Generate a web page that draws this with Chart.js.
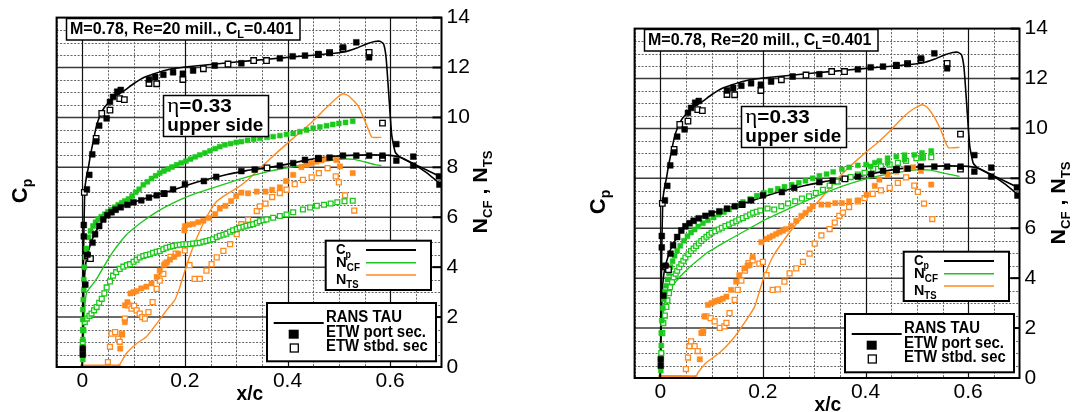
<!DOCTYPE html>
<html><head><meta charset="utf-8">
<script src="https://cdn.jsdelivr.net/npm/chart.js@4"></script>
<style>
html,body{margin:0;padding:0;background:#fff;width:1078px;height:412px;overflow:hidden;}
canvas{position:absolute;}
#c1{left:0;top:0;}
#c2{left:578px;top:11px;}
</style></head><body>
<canvas id="c1" width="500" height="400"></canvas>
<canvas id="c2" width="500" height="400"></canvas>
<script>
// ---------- tick labels ----------
const xTicks = [0, 0.2, 0.4, 0.6];
const yTicks = [0, 2, 4, 6, 8, 10, 12, 14];

// ---------- Cp (same in both panels) ----------
const cpUpLineX = [0,0.001,0.002,0.003,0.005,0.008,0.012,0.016,0.021,0.027,0.034,0.043,0.054,0.066,0.08,0.1,0.12,0.14,0.17,0.2,0.24,0.3,0.36,0.42,0.48,0.51,0.535,0.555,0.57,0.58,0.587,0.592,0.597,0.603,0.61,0.62,0.645,0.67,0.7];
const cpUpLineY = [0,1.6,3.4,5.2,7.1,7.6,8.0,8.5,9.0,9.6,10.05,10.4,10.65,10.88,11.05,11.35,11.6,11.75,11.93,12.02,12.1,12.22,12.33,12.44,12.55,12.62,12.78,12.95,13.04,13.05,12.95,12.4,11.0,9.3,8.6,8.4,8.13,7.8,7.3];
const cpLoLineX = [0,0.001,0.003,0.006,0.01,0.015,0.02,0.03,0.04,0.055,0.07,0.085,0.1,0.13,0.16,0.2,0.24,0.28,0.32,0.36,0.4,0.44,0.48,0.52,0.56,0.6,0.62,0.645,0.67,0.7];
const cpLoLineY = [0,1.5,3.0,4.0,4.5,4.85,5.15,5.55,5.85,6.15,6.35,6.5,6.6,6.8,6.98,7.25,7.5,7.7,7.87,7.98,8.13,8.3,8.42,8.48,8.5,8.48,8.4,8.15,7.9,7.6];
const cpPortX = [0.001,0.001,0.003,0.003,0.006,0.009,0.01,0.0137,0.0195,0.02,0.025,0.027,0.033,0.033,0.041,0.0475,0.049,0.054,0.057,0.06,0.065,0.068,0.075,0.075,0.088,0.1,0.115,0.13,0.13,0.142,0.145,0.158,0.16,0.177,0.177,0.196,0.2,0.216,0.237,0.258,0.261,0.31,0.31,0.336,0.385,0.385,0.41,0.411,0.434,0.434,0.46,0.46,0.482,0.482,0.508,0.508,0.534,0.534,0.559,0.559,0.585,0.612,0.612,0.645,0.645,0.695,0.696];
const cpPortY = [0.5,0.75,5.23,5.69,3.3,7.12,4.5,7.7,8.52,4.98,5.32,9.04,9.67,5.65,5.91,9.96,6.08,10.62,6.2,10.82,6.3,11.03,11.1,6.4,6.5,6.6,6.68,11.52,6.79,11.62,6.88,11.71,6.95,11.81,7.12,11.75,7.32,11.88,7.45,12.08,7.62,12.17,7.85,7.91,12.37,8.07,12.45,8.17,12.48,8.3,12.54,8.37,12.58,8.39,12.81,8.47,13.01,8.47,12.41,8.47,8.47,8.93,8.27,8.43,8.07,7.64,7.31];
const cpStbdX = [0.004,0.01,0.016,0.027,0.038,0.054,0.073,0.082,0.13,0.145,0.159,0.196,0.236,0.284,0.334,0.359,0.36,0.46,0.46,0.482,0.508,0.559,0.585,0.585];
const cpStbdY = [7.0,4.45,4.34,9.16,10.16,10.29,10.75,10.71,11.36,11.35,6.95,11.52,11.95,12.14,12.28,12.28,7.98,12.52,8.35,12.6,12.75,12.61,9.77,8.37];

// ---------- left panel N factors ----------
const L_ncfLineX = [0,0.002,0.004,0.006,0.009,0.014,0.021,0.03,0.041,0.05,0.06,0.073,0.086,0.1,0.12,0.15,0.19,0.22,0.25,0.28,0.31,0.34,0.37,0.41,0.45,0.48,0.51,0.53,0.55,0.57,0.583];
const L_ncfLineY = [0,1.0,2.1,2.7,3.0,3.15,3.33,3.6,3.99,4.3,4.62,4.98,5.3,5.55,5.87,6.28,6.7,6.95,7.15,7.35,7.55,7.72,7.87,8.02,8.18,8.27,8.33,8.32,8.22,8.11,8.07];
const L_ncfPortX = [0.001,0.001,0.001,0.001,0.001,0.001,0.002,0.003,0.003,0.004,0.006,0.008,0.012,0.016,0.021,0.026,0.031,0.037,0.044,0.05,0.056,0.063,0.07,0.077,0.083,0.09,0.097,0.104,0.111,0.119,0.127,0.135,0.143,0.151,0.159,0.167,0.175,0.184,0.193,0.202,0.211,0.22,0.229,0.239,0.249,0.259,0.268,0.278,0.289,0.3,0.31,0.322,0.334,0.346,0.36,0.372,0.385,0.398,0.411,0.424,0.437,0.45,0.463,0.476,0.488,0.5,0.513,0.527];
const L_ncfPortY = [0.3,0.7,1.1,1.5,1.9,2.3,2.7,3.1,3.5,4.0,4.4,4.75,5.2,5.45,5.65,5.8,5.92,6.02,6.12,6.22,6.3,6.4,6.5,6.58,6.65,6.73,6.85,7.0,7.12,7.3,7.42,7.55,7.66,7.77,7.85,7.93,8.01,8.1,8.18,8.25,8.33,8.42,8.5,8.58,8.66,8.75,8.83,8.9,8.95,9.0,9.03,9.08,9.12,9.16,9.2,9.23,9.27,9.32,9.36,9.43,9.5,9.57,9.62,9.67,9.72,9.76,9.8,9.85];
const L_ncfStbdX = [0.001,0.001,0.002,0.005,0.009,0.014,0.018,0.023,0.028,0.033,0.038,0.043,0.0475,0.054,0.06,0.066,0.073,0.08,0.087,0.093,0.1,0.106,0.112,0.119,0.125,0.132,0.138,0.145,0.151,0.158,0.164,0.171,0.177,0.184,0.19,0.197,0.203,0.21,0.216,0.223,0.229,0.236,0.242,0.249,0.255,0.262,0.268,0.275,0.281,0.288,0.294,0.301,0.307,0.314,0.32,0.327,0.333,0.34,0.346,0.353,0.359,0.372,0.385,0.398,0.411,0.43,0.444,0.457,0.471,0.484,0.497,0.511,0.527];
const L_ncfStbdY = [0.6,1.0,1.47,1.8,1.94,2.05,2.14,2.27,2.4,2.57,2.73,2.95,3.19,3.43,3.66,3.8,3.93,4.02,4.08,4.12,4.22,4.3,4.39,4.45,4.49,4.52,4.58,4.62,4.65,4.72,4.78,4.82,4.85,4.88,4.9,4.92,4.92,4.93,4.95,4.96,4.98,5.02,5.05,5.09,5.12,5.2,5.26,5.3,5.34,5.42,5.48,5.53,5.58,5.62,5.66,5.69,5.72,5.78,5.84,5.88,5.91,5.98,6.05,6.11,6.2,6.31,6.39,6.46,6.5,6.55,6.6,6.64,6.66];
const L_ntsLineX = [-0.004,0.03,0.07,0.073,0.086,0.106,0.125,0.145,0.164,0.18,0.19,0.2,0.213,0.229,0.245,0.262,0.283,0.3,0.32,0.343,0.377,0.41,0.444,0.477,0.497,0.508,0.52,0.538,0.551,0.564,0.583];
const L_ntsLineY = [0.04,0.04,0.04,0.1,0.54,0.94,1.21,1.74,2.27,2.67,3.19,3.86,4.65,5.45,6.11,6.64,6.95,7.15,7.45,7.9,8.55,9.15,9.75,10.42,10.8,10.95,10.85,10.45,9.85,9.22,9.2];
const L_ntsPortX = [0.074,0.078,0.083,0.083,0.088,0.094,0.1,0.106,0.115,0.125,0.135,0.145,0.151,0.159,0.165,0.171,0.179,0.187,0.199,0.2,0.208,0.216,0.226,0.236,0.247,0.259,0.268,0.279,0.29,0.3,0.31,0.323,0.34,0.357,0.37,0.385,0.397,0.411,0.427,0.437,0.447,0.456,0.466,0.477,0.495,0.502,0.527];
const L_ntsPortY = [0.74,1.3,1.8,2.47,2.6,2.95,3.0,3.04,3.15,3.22,3.35,3.61,3.86,4.08,4.2,4.3,4.41,4.54,5.47,5.65,5.7,5.73,5.8,5.86,5.97,6.13,6.35,6.46,6.65,6.85,6.99,6.96,7.03,7.03,7.1,7.2,7.45,7.7,8.01,8.1,8.17,8.23,8.28,8.35,8.3,8.04,7.77];
const L_ntsStbdX = [0.05,0.054,0.057,0.064,0.07,0.073,0.077,0.083,0.09,0.096,0.101,0.106,0.112,0.117,0.122,0.129,0.137,0.145,0.151,0.158,0.162,0.172,0.182,0.2,0.209,0.219,0.229,0.242,0.252,0.262,0.275,0.288,0.301,0.31,0.323,0.34,0.346,0.357,0.37,0.385,0.398,0.414,0.43,0.447,0.461,0.478,0.494,0.5,0.512,0.53];
const L_ntsStbdY = [0.2,0.81,1.34,1.4,1.14,1.01,1.34,1.94,2.47,2.34,2.45,2.27,2.14,2.0,1.94,2.2,2.6,3.13,3.46,3.73,4.14,4.41,4.54,4.67,4.08,3.53,3.53,3.86,4.12,4.39,4.65,4.92,5.32,5.72,5.9,6.25,6.44,6.55,6.81,6.97,7.11,7.33,7.5,7.6,7.77,7.97,7.64,7.4,6.88,6.27];

// ---------- right panel N factors ----------
const R_ncfLineX = [0,0.001,0.002,0.005,0.008,0.012,0.015,0.02,0.025,0.033,0.04,0.05,0.06,0.075,0.09,0.11,0.135,0.17,0.2,0.236,0.27,0.303,0.337,0.371,0.405,0.439,0.473,0.5,0.527,0.554,0.583];
const R_ncfLineY = [0,1.0,1.9,2.5,3.0,3.25,3.4,3.6,3.72,3.92,4.1,4.3,4.5,4.75,5.0,5.25,5.55,5.95,6.3,6.65,6.97,7.27,7.55,7.8,8.0,8.15,8.27,8.34,8.33,8.2,8.08];
const R_ncfPortX = [0.001,0.001,0.002,0.002,0.003,0.005,0.007,0.009,0.011,0.014,0.017,0.02,0.024,0.028,0.033,0.039,0.046,0.053,0.06,0.067,0.074,0.083,0.093,0.104,0.114,0.124,0.134,0.148,0.161,0.175,0.188,0.202,0.215,0.229,0.242,0.256,0.27,0.283,0.297,0.31,0.324,0.337,0.354,0.368,0.385,0.401,0.41,0.418,0.427,0.443,0.443,0.46,0.476,0.476,0.495,0.51,0.51,0.528];
const R_ncfPortY = [0.3,0.8,1.3,1.8,2.3,2.8,3.15,3.45,3.7,3.95,4.2,4.45,4.68,4.9,5.1,5.3,5.5,5.68,5.83,5.95,6.07,6.2,6.32,6.43,6.55,6.65,6.75,6.9,7.05,7.17,7.3,7.42,7.5,7.58,7.66,7.74,7.82,7.9,8.0,8.1,8.17,8.26,8.36,8.44,8.52,8.55,8.48,8.63,8.7,8.81,8.62,8.87,8.93,8.75,8.94,9.02,8.82,9.1];
const R_ncfStbdX = [0.002,0.004,0.006,0.009,0.012,0.014,0.017,0.019,0.023,0.026,0.03,0.033,0.037,0.041,0.045,0.049,0.055,0.06,0.065,0.07,0.075,0.08,0.085,0.09,0.095,0.1,0.107,0.114,0.12,0.127,0.134,0.141,0.148,0.154,0.161,0.168,0.175,0.181,0.188,0.195,0.209,0.222,0.236,0.249,0.263,0.276,0.29,0.303,0.317,0.33,0.344,0.358,0.371,0.385,0.398,0.415,0.43,0.447,0.463,0.479,0.499,0.512,0.528];
const R_ncfStbdY = [1.0,1.8,2.2,2.5,2.85,3.11,3.4,3.64,3.85,4.04,4.18,4.3,4.44,4.57,4.7,4.83,4.96,5.09,5.19,5.29,5.39,5.49,5.57,5.66,5.74,5.82,5.88,5.95,6.02,6.09,6.15,6.22,6.28,6.35,6.41,6.48,6.55,6.62,6.66,6.71,6.79,6.75,6.88,6.99,7.08,7.19,7.28,7.41,7.54,7.71,7.87,7.98,8.05,8.15,8.22,8.38,8.48,8.55,8.62,8.7,8.81,8.84,8.85];
const R_ntsLineX = [-0.004,0.03,0.07,0.073,0.09,0.116,0.141,0.164,0.184,0.2,0.219,0.245,0.265,0.291,0.324,0.344,0.371,0.398,0.425,0.452,0.473,0.493,0.51,0.52,0.534,0.547,0.561,0.583];
const R_ntsLineY = [0.06,0.06,0.06,0.2,0.62,1.02,1.55,2.21,2.86,3.92,4.85,5.64,6.17,6.7,7.45,7.95,8.5,9.0,9.46,9.99,10.45,10.78,10.95,10.85,10.45,9.92,9.24,9.24];
const R_ntsPortX = [0.077,0.08,0.084,0.086,0.093,0.1,0.106,0.111,0.116,0.122,0.129,0.138,0.148,0.154,0.164,0.17,0.174,0.18,0.197,0.207,0.213,0.219,0.226,0.232,0.239,0.245,0.255,0.265,0.275,0.283,0.291,0.297,0.314,0.327,0.341,0.354,0.368,0.385,0.402,0.418,0.427,0.443,0.46,0.479,0.493,0.508,0.528];
const R_ntsPortY = [0.75,1.81,1.88,2.47,2.93,3.0,3.06,3.1,3.13,3.18,3.26,3.53,3.86,4.12,4.39,4.5,4.52,4.85,5.44,5.57,5.63,5.7,5.77,5.84,5.9,5.97,6.1,6.3,6.5,6.62,6.76,6.88,6.95,6.95,7.01,7.01,7.08,7.12,7.34,7.7,7.95,8.15,8.27,8.4,8.44,8.3,7.75];
const R_ntsStbdX = [0.05,0.054,0.057,0.06,0.067,0.073,0.083,0.09,0.098,0.106,0.116,0.125,0.129,0.135,0.145,0.151,0.158,0.165,0.172,0.18,0.193,0.2,0.207,0.219,0.229,0.242,0.252,0.265,0.278,0.291,0.301,0.314,0.33,0.34,0.349,0.356,0.368,0.385,0.398,0.414,0.43,0.447,0.463,0.479,0.495,0.502,0.514,0.53];
const R_ntsStbdY = [0.36,0.82,1.28,1.47,1.28,1.08,1.81,2.47,2.4,2.27,2.01,2.07,2.21,2.6,3.13,3.53,3.9,4.3,4.6,4.71,4.58,4.65,4.12,3.53,3.55,3.86,4.19,4.39,4.65,4.98,5.38,5.71,5.97,6.23,6.5,6.63,6.85,7.08,7.21,7.38,7.52,7.62,7.82,8.04,7.71,7.46,6.99,6.37];

// ---------- styling ----------
const FONT = "Arial, 'Liberation Sans', Helvetica, sans-serif";
const SERIF = "'Times New Roman', 'Liberation Serif', serif";
const GREEN = '#1bc81b', ORANGE = '#ff8a1e', BLACK = '#000';

function pts(xs, ys){ return xs.map((x, i) => ({x: x, y: ys[i]})); }
function markerDS(xs, ys, color, filled, r){
  return {data: pts(xs, ys), showLine: false, pointStyle: 'rect', pointRadius: r, pointHoverRadius: r,
    pointBackgroundColor: filled ? color : '#fff', pointBorderColor: color, pointBorderWidth: filled ? 0.5 : 1.3};
}
function lineDS(xs, ys, color, w){
  return {data: pts(xs, ys), showLine: true, pointRadius: 0, pointHoverRadius: 0, borderColor: color,
    borderWidth: w, tension: 0.15, fill: false,
    segment: {borderWidth: c => (c.p0.parsed.y < 0.15 && c.p1.parsed.y < 0.15) ? 3 : w}};
}

function rich(ctx, parts, x, y){
  let cx = x;
  for (const p of parts){ ctx.font = p[1]; ctx.fillText(p[0], cx, y + p[2]); cx += ctx.measureText(p[0]).width; }
  return cx - x;
}
function richW(ctx, parts){
  let w = 0;
  for (const p of parts){ ctx.font = p[1]; w += ctx.measureText(p[0]).width; }
  return w;
}
// draw rich text starting at x, stretched/condensed horizontally to a target width
function fitRich(ctx, parts, x, y, target){
  const w = richW(ctx, parts);
  const sx = target ? target / w : 1;
  ctx.save(); ctx.translate(x, y); ctx.scale(sx, 1); rich(ctx, parts, 0, 0); ctx.restore();
}
const B = s => 'bold ' + s + 'px ' + FONT;

const gridPlugin = {
  id: 'gridPlugin',
  beforeDatasetsDraw(chart){
    const {ctx, chartArea: a, scales: {x, y}} = chart;
    ctx.save();
    ctx.beginPath(); ctx.rect(a.left, a.top, a.right - a.left, a.bottom - a.top); ctx.clip();
    ctx.strokeStyle = '#666'; ctx.lineWidth = 1; ctx.setLineDash([2, 1.5]);
    for (let i = -1; i <= 14; i++){
      if (i % 4 === 0) continue;
      const px = Math.round(x.getPixelForValue(i * 0.05)) + 0.5;
      ctx.beginPath(); ctx.moveTo(px, a.top); ctx.lineTo(px, a.bottom); ctx.stroke();
    }
    for (let i = 1; i < 28; i++){
      if (i % 4 === 0) continue;
      const py = Math.round(y.getPixelForValue(i * 0.5)) + 0.5;
      ctx.beginPath(); ctx.moveTo(a.left, py); ctx.lineTo(a.right, py); ctx.stroke();
    }
    ctx.setLineDash([]);
    ctx.strokeStyle = '#3a3a3a'; ctx.lineWidth = 1.5;
    for (const v of yTicks){
      if (v === 0 || v === 14) continue;
      const py = y.getPixelForValue(v);
      ctx.beginPath(); ctx.moveTo(a.left, py); ctx.lineTo(a.right, py); ctx.stroke();
    }
    ctx.strokeStyle = '#111'; ctx.lineWidth = 1.2;
    for (const v of xTicks){
      const px = Math.round(x.getPixelForValue(v)) + 0.5;
      ctx.beginPath(); ctx.moveTo(px, a.top); ctx.lineTo(px, a.bottom); ctx.stroke();
    }
    ctx.restore();
  },
  afterDraw(chart){
    const {ctx, chartArea: a, scales: {y}} = chart;
    ctx.save();
    ctx.strokeStyle = '#000'; ctx.lineWidth = 2;
    ctx.strokeRect(a.left, a.top, a.right - a.left, a.bottom - a.top);
    for (const v of yTicks){
      const py = y.getPixelForValue(v);
      ctx.beginPath(); ctx.moveTo(a.right - 9, py); ctx.lineTo(a.right, py); ctx.stroke();
    }
    ctx.textBaseline = 'alphabetic'; ctx.textAlign = 'left';
    // condition box
    ctx.fillStyle = '#fff'; ctx.fillRect(66.5, 18.5, 233.5, 21.5);
    ctx.strokeStyle = '#000'; ctx.lineWidth = 1.5; ctx.strokeRect(66.5, 18.5, 233.5, 21.5);
    ctx.fillStyle = '#000';
    fitRich(ctx, [['M=0.78, Re=20 mill., C', B(16), 0], ['L', B(11), 4], ['=0.401', B(16), 0]], 70, 33.5, 223.5);
    // eta box
    ctx.fillStyle = '#fff'; ctx.fillRect(163.5, 95.5, 105, 41);
    ctx.strokeRect(163.5, 95.5, 105, 41);
    ctx.fillStyle = '#000';
    fitRich(ctx, [['\u03b7', '20px ' + SERIF, 0], ['=0.33', B(18), 0]], 167.3, 112, 64.5);
    fitRich(ctx, [['upper side', B(18), 0]], 167.3, 130.5, 96);
    // legend 1
    ctx.fillStyle = '#fff'; ctx.fillRect(325.7, 240.7, 105.3, 49.3);
    ctx.lineWidth = 2; ctx.strokeRect(325.7, 240.7, 105.3, 49.3);
    ctx.fillStyle = '#000';
    fitRich(ctx, [['C', B(15), 0], ['p', B(10), 4]], 336, 254, 15);
    fitRich(ctx, [['N', B(15), 0], ['CF', B(10), 4]], 336, 267, 24);
    fitRich(ctx, [['N', B(15), 0], ['TS', B(10), 4]], 336, 283.5, 22.5);
    const legLines = [[BLACK, 250, 2], [GREEN, 262.7, 1.6], [ORANGE, 275, 1.6]];
    for (const l of legLines){
      ctx.strokeStyle = l[0]; ctx.lineWidth = l[2];
      ctx.beginPath(); ctx.moveTo(366, l[1]); ctx.lineTo(416, l[1]); ctx.stroke();
    }
    // legend 2
    ctx.fillStyle = '#fff'; ctx.fillRect(267, 303, 169, 58.3);
    ctx.strokeStyle = '#000'; ctx.lineWidth = 2; ctx.strokeRect(267, 303, 169, 58.3);
    ctx.fillStyle = '#000';
    fitRich(ctx, [['RANS TAU', B(16), 0]], 326, 322, 76);
    fitRich(ctx, [['ETW port sec.', B(16), 0]], 326, 336.5, 100);
    fitRich(ctx, [['ETW stbd. sec', B(16), 0]], 326, 351.3, 101.7);
    ctx.lineWidth = 2; ctx.beginPath(); ctx.moveTo(273.7, 323); ctx.lineTo(323.7, 323); ctx.stroke();
    ctx.fillRect(288.7, 329.7, 10, 9);
    ctx.fillStyle = '#fff'; ctx.fillRect(290.3, 344, 8, 8);
    ctx.lineWidth = 1.3; ctx.strokeRect(290.3, 344, 8, 8);
    // axis titles
    ctx.fillStyle = '#000';
    fitRich(ctx, [['x/c', B(20), 0]], 236.5, 400, 26.7);
    const cp = [['C', B(22), 0], ['p', B(14), 5]];
    ctx.save(); ctx.translate(27, 191); ctx.rotate(-Math.PI / 2);
    fitRich(ctx, cp, -richW(ctx, cp) / 2, 0, 0); ctx.restore();
    const nl = [['N', B(21), 0], ['CF', B(13), 5], [' , ', B(21), 0], ['N', B(21), 0], ['TS', B(13), 5]];
    ctx.save(); ctx.translate(487, 192); ctx.rotate(-Math.PI / 2);
    fitRich(ctx, nl, -41.5, 0, 83); ctx.restore();
    ctx.restore();
  }
};

function makeChart(id, P){
  const datasets = [
    markerDS(cpPortX, cpPortY, BLACK, true, 4.1),
    markerDS(cpStbdX, cpStbdY, BLACK, false, 3.9),
    markerDS(P.ncfPortX, P.ncfPortY, GREEN, true, 3.5),
    markerDS(P.ncfStbdX, P.ncfStbdY, GREEN, false, 3.4),
    markerDS(P.ntsPortX, P.ntsPortY, ORANGE, true, 3.7),
    markerDS(P.ntsStbdX, P.ntsStbdY, ORANGE, false, 3.5),
    lineDS(cpUpLineX, cpUpLineY, BLACK, 1.6),
    lineDS(cpLoLineX, cpLoLineY, BLACK, 1.6),
    lineDS(P.ncfLineX, P.ncfLineY, GREEN, 1.4),
    lineDS(P.ntsLineX, P.ntsLineY, ORANGE, 1.4)
  ];
  return new Chart(document.getElementById(id), {
    type: 'scatter',
    data: {datasets: datasets},
    options: {
      responsive: false, animation: false, devicePixelRatio: 1,
      layout: {padding: {left: 56.6, top: 15, right: 0, bottom: 0}},
      plugins: {legend: {display: false}, tooltip: {enabled: false}},
      scales: {
        x: {type: 'linear', min: -0.05, max: 0.7, position: 'bottom',
          afterBuildTicks: s => { s.ticks = xTicks.map(v => ({value: v})); },
          afterFit: s => { s.height = 33; },
          grid: {display: false, drawTicks: false}, border: {display: false},
          ticks: {font: {family: FONT, size: 21}, color: '#000', padding: 2, maxRotation: 0, autoSkip: false,
            callback: v => v === 0 ? '0' : Number(v).toFixed(1)}},
        y: {type: 'linear', position: 'right', min: 0, max: 14,
          afterBuildTicks: s => { s.ticks = yTicks.map(v => ({value: v})); },
          afterFit: s => { s.width = 58.5; },
          grid: {display: false, drawTicks: false}, border: {display: false},
          ticks: {font: {family: FONT, size: 21}, color: '#000', padding: 5, autoSkip: false,
            callback: v => String(v)}}
      }
    },
    plugins: [gridPlugin]
  });
}

makeChart('c1', {ncfLineX: L_ncfLineX, ncfLineY: L_ncfLineY, ncfPortX: L_ncfPortX, ncfPortY: L_ncfPortY,
  ncfStbdX: L_ncfStbdX, ncfStbdY: L_ncfStbdY, ntsLineX: L_ntsLineX, ntsLineY: L_ntsLineY,
  ntsPortX: L_ntsPortX, ntsPortY: L_ntsPortY, ntsStbdX: L_ntsStbdX, ntsStbdY: L_ntsStbdY});
makeChart('c2', {ncfLineX: R_ncfLineX, ncfLineY: R_ncfLineY, ncfPortX: R_ncfPortX, ncfPortY: R_ncfPortY,
  ncfStbdX: R_ncfStbdX, ncfStbdY: R_ncfStbdY, ntsLineX: R_ntsLineX, ntsLineY: R_ntsLineY,
  ntsPortX: R_ntsPortX, ntsPortY: R_ntsPortY, ntsStbdX: R_ntsStbdX, ntsStbdY: R_ntsStbdY});
</script>
</body></html>
